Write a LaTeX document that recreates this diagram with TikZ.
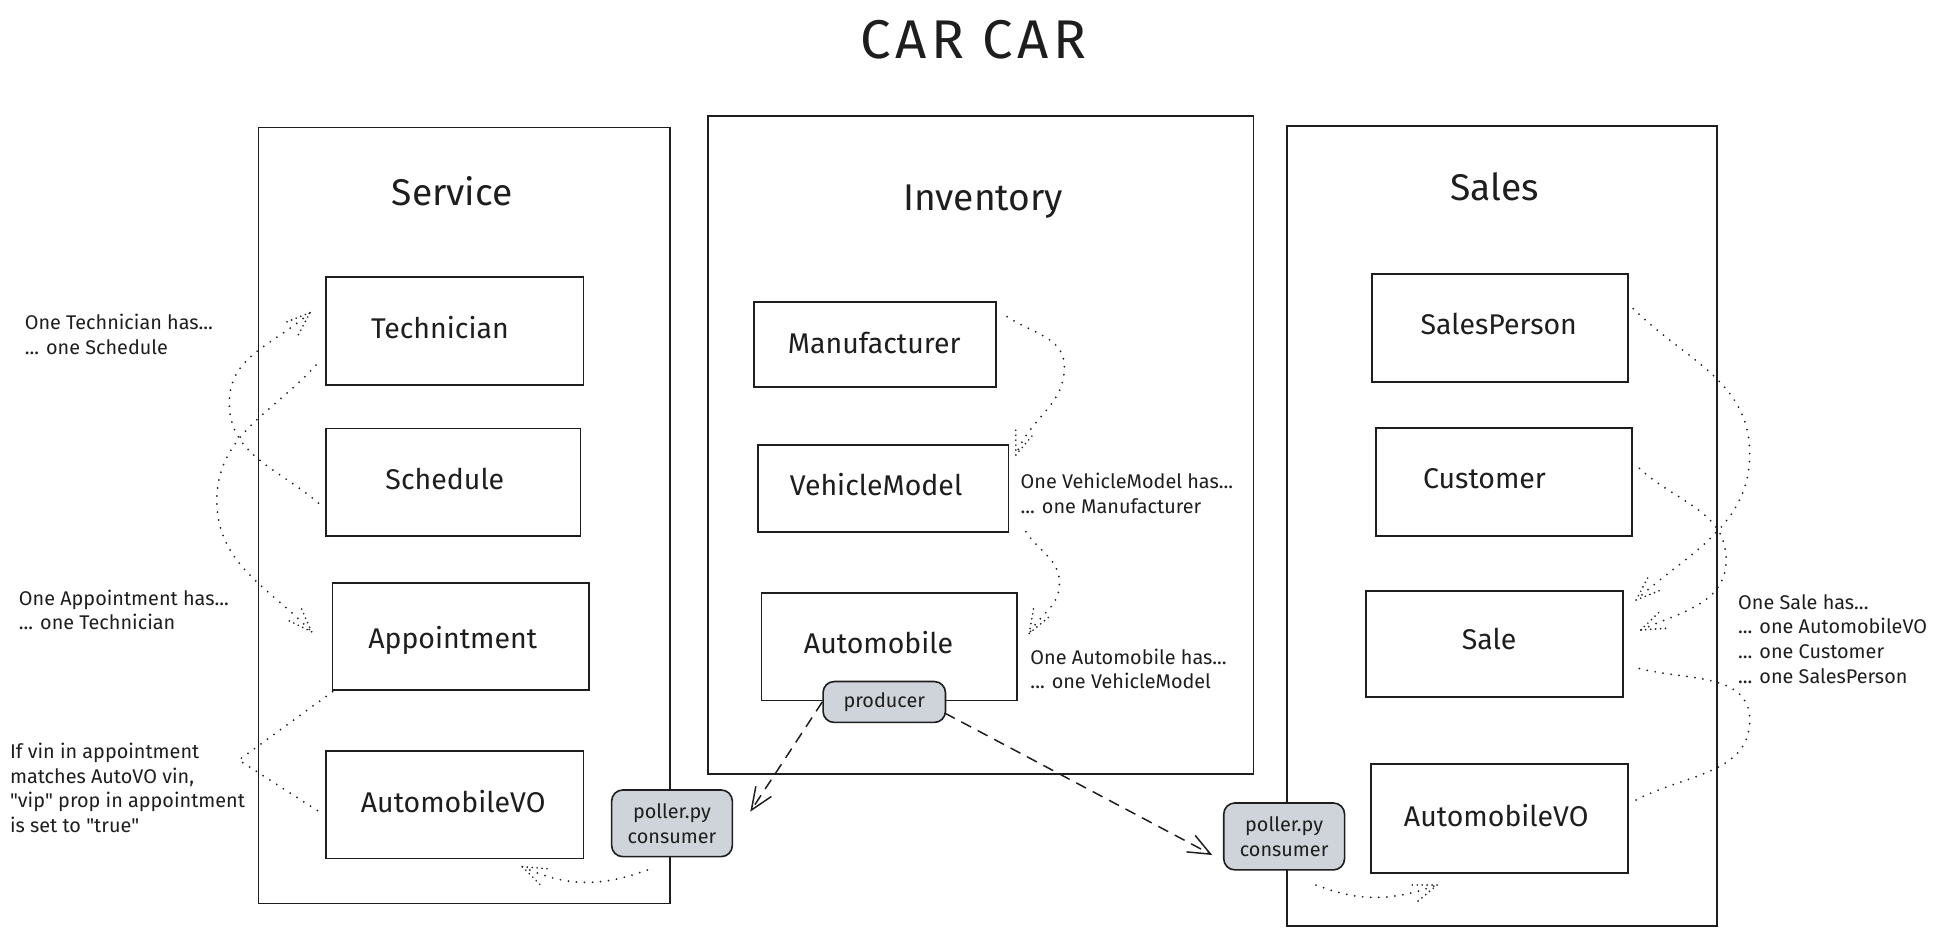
\documentclass[tikz,border=0pt]{standalone}
\usepackage{fontspec}
\setmainfont{Fira Sans}
\usetikzlibrary{arrows.meta,decorations.markings}
\definecolor{ink}{HTML}{1E1E1E}
\definecolor{grayfill}{HTML}{CED4DA}
\begin{document}
\begin{tikzpicture}[x=1pt,y=-1pt,
  every node/.style={text=ink},
  cont/.style={draw=ink, line width=1.3pt, inner sep=0pt},
  box/.style={draw=ink, line width=1.4pt, fill=white, inner sep=0pt},
  graybox/.style={draw=ink, line width=1.3pt, fill=grayfill, rounded corners=9pt, inner sep=0pt, align=center, font=\fontsize{16}{20}\selectfont},
  ttl/.style={anchor=base, inner sep=0pt, font=\fontsize{44}{50}\selectfont\addfontfeature{LetterSpace=8}},
  sec/.style={anchor=base, inner sep=0pt, font=\fontsize{30}{34}\selectfont},
  lbl/.style={anchor=base, inner sep=0pt, font=\fontsize{23}{27}\selectfont},
  ann/.style={anchor=north west, inner sep=0pt, align=left, font=\fontsize{16}{20}\selectfont},
  dotline/.style={draw=ink, line width=1.6pt, line cap=round, dash pattern=on 0pt off 6.5pt},
  dotarrow/.style={dotline, postaction={decorate}, decoration={markings, mark=at position 1 with {\draw[draw=ink, line width=1.5pt, line cap=round, dash pattern=on 0pt off 4pt] (0,0) -- (-19,7) (0,0) -- (-19,-7);}}},
  dashline/.style={draw=ink, line width=1.2pt, dash pattern=on 9pt off 6pt, -{Straight Barb[length=18pt,width=15pt]}}
]
\useasboundingbox (0,0) rectangle (1568,755.3);

% containers
\node[cont, minimum width=332pt, minimum height=626pt] (servC) at (374.5,416) {};
\node[cont, minimum width=440pt, minimum height=531pt] (invC) at (791.5,359.1) {};
\node[cont, minimum width=347pt, minimum height=645.3pt] (salesC) at (1212,424.4) {};

% titles
\node[ttl] (title) at (785.6,47) {CAR CAR};
\node[sec] (servT) at (365,165.5) {Service};
\node[sec] (invT) at (793.4,169.5) {Inventory};
\node[sec] (salesT) at (1206,161.5) {Sales};

% boxes
\node[box, minimum width=207.6pt, minimum height=87.4pt] (tech) at (367.1,267) {};
\node[box, minimum width=205.4pt, minimum height=86.9pt] (sched) at (365.7,389.2) {};
\node[box, minimum width=207.2pt, minimum height=86.6pt] (appt) at (372,513.5) {};
\node[box, minimum width=207.6pt, minimum height=86.7pt] (savo) at (367.1,649.4) {};
\node[box, minimum width=195.3pt, minimum height=68.5pt] (manu) at (706,277.8) {};
\node[box, minimum width=202.1pt, minimum height=70pt] (vmod) at (712.7,394.1) {};
\node[box, minimum width=206.4pt, minimum height=86.6pt] (auto) at (717.7,522.1) {};
\node[box, minimum width=206.5pt, minimum height=86.9pt] (sp) at (1210.6,264.6) {};
\node[box, minimum width=206.2pt, minimum height=87.5pt] (cust) at (1213.8,388.9) {};
\node[box, minimum width=207.2pt, minimum height=85.5pt] (sale) at (1205.9,519.5) {};
\node[box, minimum width=207.7pt, minimum height=87.7pt] (slavo) at (1210,660.4) {};

% gray boxes
\node[graybox, minimum width=98.8pt, minimum height=33pt] (prod) at (713.6,566.5) {producer};
\node[graybox, minimum width=97.4pt, minimum height=53.8pt] (pollL) at (542.3,664.4) {poller.py\\consumer};
\node[graybox, minimum width=97.5pt, minimum height=54pt] (pollR) at (1036.3,675) {poller.py\\consumer};

% box labels
\node[lbl] (techL) at (355,273) {Technician};
\node[lbl] (schedL) at (359,395.4) {Schedule};
\node[lbl] (apptL) at (365.3,523.5) {Appointment};
\node[lbl] (savoL) at (365.7,656) {AutomobileVO};
\node[lbl] (manuL) at (705.5,285) {Manufacturer};
\node[lbl] (vmodL) at (707,399.5) {VehicleModel};
\node[lbl] (autoL) at (709,527) {Automobile};
\node[lbl] (spL) at (1209.5,270.3) {SalesPerson};
\node[lbl] (custL) at (1198,394) {Customer};
\node[lbl] (saleL) at (1201.7,524.5) {Sale};
\node[lbl] (slavoL) at (1207.5,667) {AutomobileVO};

% annotations
\node[ann] (annTech) at (19.8,253.2) {One Technician has...\\... one Schedule};
\node[ann] (annAppt) at (15.1,475.7) {One Appointment has...\\... one Technician};
\node[ann] (annVin) at (7.9,599.2) {If vin in appointment\\matches AutoVO vin,\\\textquotedbl vip\textquotedbl{} prop in appointment\\is set to \textquotedbl true\textquotedbl};
\node[ann] (annVM) at (823.5,381.8) {One VehicleModel has...\\... one Manufacturer};
\node[ann] (annAuto) at (831.4,523.2) {One Automobile has...\\... one VehicleModel};
\node[ann] (annSale) at (1402.5,479.4) {One Sale has...\\... one AutomobileVO\\... one Customer\\... one SalesPerson};

% connector end points
\coordinate (c1s) at (257,406);   \coordinate (c1m) at (185,325);   \coordinate (c1e) at (250.2,252.3);
\coordinate (c2s) at (255,294.6); \coordinate (c2m) at (175,404);   \coordinate (c2e) at (251.5,509.8);
\coordinate (c3s) at (268.4,558.2); \coordinate (c3m) at (192.7,613.3); \coordinate (c3e) at (258.7,655.8);
\coordinate (c4s) at (522.4,702.1); \coordinate (c4e) at (421.5,699.4);
\coordinate (c5s) at (812.7,255.6); \coordinate (c5m) at (859,296); \coordinate (c5e) at (819.8,367.2);
\coordinate (c6s) at (827.8,429.1); \coordinate (c6m) at (855,471); \coordinate (c6e) at (830.6,511.1);
\coordinate (c7e) at (605.5,655);
\coordinate (c8s) at (762.5,575.5); \coordinate (c8e) at (978.3,690);
\coordinate (c9s) at (1318,249); \coordinate (c9m) at (1412,366); \coordinate (c9e) at (1320.3,484.2);
\coordinate (c10s) at (1323,378); \coordinate (c10m) at (1393,452); \coordinate (c10e) at (1324.1,508.4);
\coordinate (c11s) at (1320.3,645.6); \coordinate (c11m) at (1412,581); \coordinate (c11e) at (1322.2,539.3);
\coordinate (c12s) at (1062,714.2); \coordinate (c12e) at (1159.7,714.2);

% connectors
\draw[dotarrow] (c1s) to[out=139,in=-90] (c1m) to[out=90,in=222] (c1e);
\draw[dotarrow] (c2s) to[out=228,in=90] (c2m) to[out=-90,in=134] (c2e);
\draw[dotline] (c3s) -- (c3m) -- (c3e);
\draw[dotarrow] (c4s) to[out=200,in=-25] (c4e);
\draw[dotarrow] (c5s) to[out=-34,in=90] (c5m) to[out=-90,in=70] (c5e);
\draw[dotarrow] (c6s) to[out=-56,in=90] (c6m) to[out=-90,in=60] (c6e);
\draw[dashline] (prod.west) -- (c7e);
\draw[dashline] (c8s) -- (c8e);
\draw[dotarrow] (c9s) to[out=-45,in=90] (c9m) to[out=-90,in=42] (c9e);
\draw[dotarrow] (c10s) to[out=-43,in=90] (c10m) to[out=-90,in=24] (c10e);
\draw[dotarrow] (c11s) to[out=28,in=-90] (c11m) to[out=90,in=-15] (c11e);
\draw[dotarrow] (c12s) to[out=-21,in=200] (c12e);
\end{tikzpicture}
\end{document}
